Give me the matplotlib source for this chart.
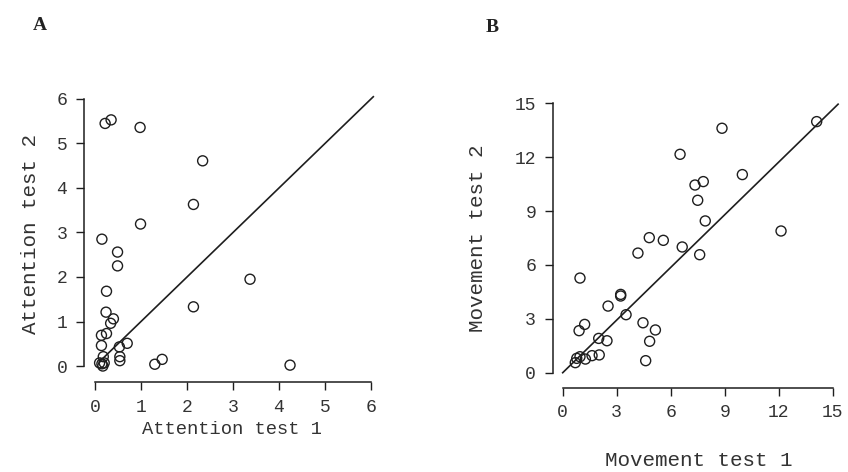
import numpy as np
import matplotlib.pyplot as plt

plt.rcParams['font.family'] = ['Liberation Mono', 'DejaVu Sans Mono']

# panel A: attention test 1 vs test 2
att1 = [0.22, 0.35, 0.98, 2.34, 2.14, 0.99, 0.15, 0.49, 0.49, 3.37, 0.25, 2.14,
        0.24, 0.40, 0.34, 0.25, 0.14, 0.14, 0.70, 0.53, 0.54, 0.54, 0.18, 1.30,
        1.46, 4.24, 0.10, 0.15, 0.20, 0.17]
att2 = [5.45, 5.53, 5.36, 4.61, 3.63, 3.19, 2.85, 2.56, 2.25, 1.95, 1.68, 1.33,
        1.21, 1.06, 0.96, 0.73, 0.69, 0.46, 0.51, 0.43, 0.21, 0.12, 0.21, 0.04,
        0.15, 0.02, 0.07, 0.05, 0.07, 0.0]

# panel B: movement test 1 vs test 2
mov1 = [14.11, 8.85, 6.52, 9.98, 7.81, 7.35, 7.50, 12.13, 7.92, 4.81, 5.59, 6.64,
        4.18, 7.61, 0.96, 3.22, 3.22, 2.52, 3.52, 4.46, 5.15, 1.22, 0.91, 2.00,
        2.46, 4.83, 4.61, 2.03, 1.63, 1.26, 0.96, 0.78, 0.70]
mov2 = [13.98, 13.61, 12.16, 11.03, 10.64, 10.45, 9.60, 7.89, 8.45, 7.52, 7.37, 7.00,
        6.66, 6.57, 5.27, 4.36, 4.27, 3.71, 3.23, 2.78, 2.38, 2.69, 2.34, 1.91,
        1.78, 1.75, 0.67, 0.99, 0.95, 0.76, 0.89, 0.80, 0.56]

W, H = 848, 472
fig = plt.figure(figsize=(W / 100, H / 100), dpi=100)


def make_axes(left, right, top, bottom):
    return fig.add_axes([left / W, 1 - bottom / H, (right - left) / W, (bottom - top) / H])


ink = '#1e1e1e'


def style(ax, ticks, left_off, bottom_off):
    for s in ['top', 'right']:
        ax.spines[s].set_visible(False)
    ax.spines['left'].set_position(('outward', left_off))
    ax.spines['bottom'].set_position(('outward', bottom_off))
    ax.spines['left'].set_bounds(ticks[0], ticks[-1])
    ax.spines['bottom'].set_bounds(ticks[0], ticks[-1])
    for s in ['left', 'bottom']:
        ax.spines[s].set_color(ink)
        ax.spines[s].set_linewidth(1.1)
    ax.set_xticks(ticks)
    ax.set_yticks(ticks)
    ax.tick_params(direction='out', length=6, width=1.0, color=ink,
                   labelsize=13, labelcolor='#333333', pad=6)


# panel A
axA = make_axes(88.1, 375.6, 94.5, 372.7)
axA.set_xlim(-0.15, 6.1)
axA.set_ylim(-0.15, 6.1)
axA.scatter(att1, att2, s=52, facecolors='none', edgecolors=ink, linewidths=1.0, clip_on=False)
axA.plot([0.1, 6.05], [0.1, 6.05], color=ink, lw=1.2)
style(axA, [0, 1, 2, 3, 4, 5, 6], 3, 6.7)
axA.set_xlabel('Attention test 1', fontsize=13.5, color='#333333', labelpad=4)
axA.set_ylabel('Attention test 2', fontsize=15, color='#333333', labelpad=12)

# panel B
axB = make_axes(557.3, 839.9, 97.9, 378.1)
axB.set_xlim(-0.3, 15.4)
axB.set_ylim(-0.3, 15.3)
axB.scatter(mov1, mov2, s=52, facecolors='none', edgecolors=ink, linewidths=1.0, clip_on=False)
axB.plot([0, 15.3], [0, 14.95], color=ink, lw=1.2)
style(axB, [0, 3, 6, 9, 12, 15], 3.3, 6.9)
axB.set_xlabel('Movement test 1', fontsize=15, color='#333333', labelpad=21)
axB.set_ylabel('Movement test 2', fontsize=15, color='#333333', labelpad=20)

fig.text(40 / W, 1 - 25 / H, 'A', fontsize=14, fontweight='bold', family='Liberation Serif',
         ha='center', va='center', color='#222222')
fig.text(492 / W, 1 - 27 / H, 'B', fontsize=14, fontweight='bold', family='Liberation Serif',
         ha='center', va='center', color='#222222')

fig.savefig('out.png', dpi=100)
